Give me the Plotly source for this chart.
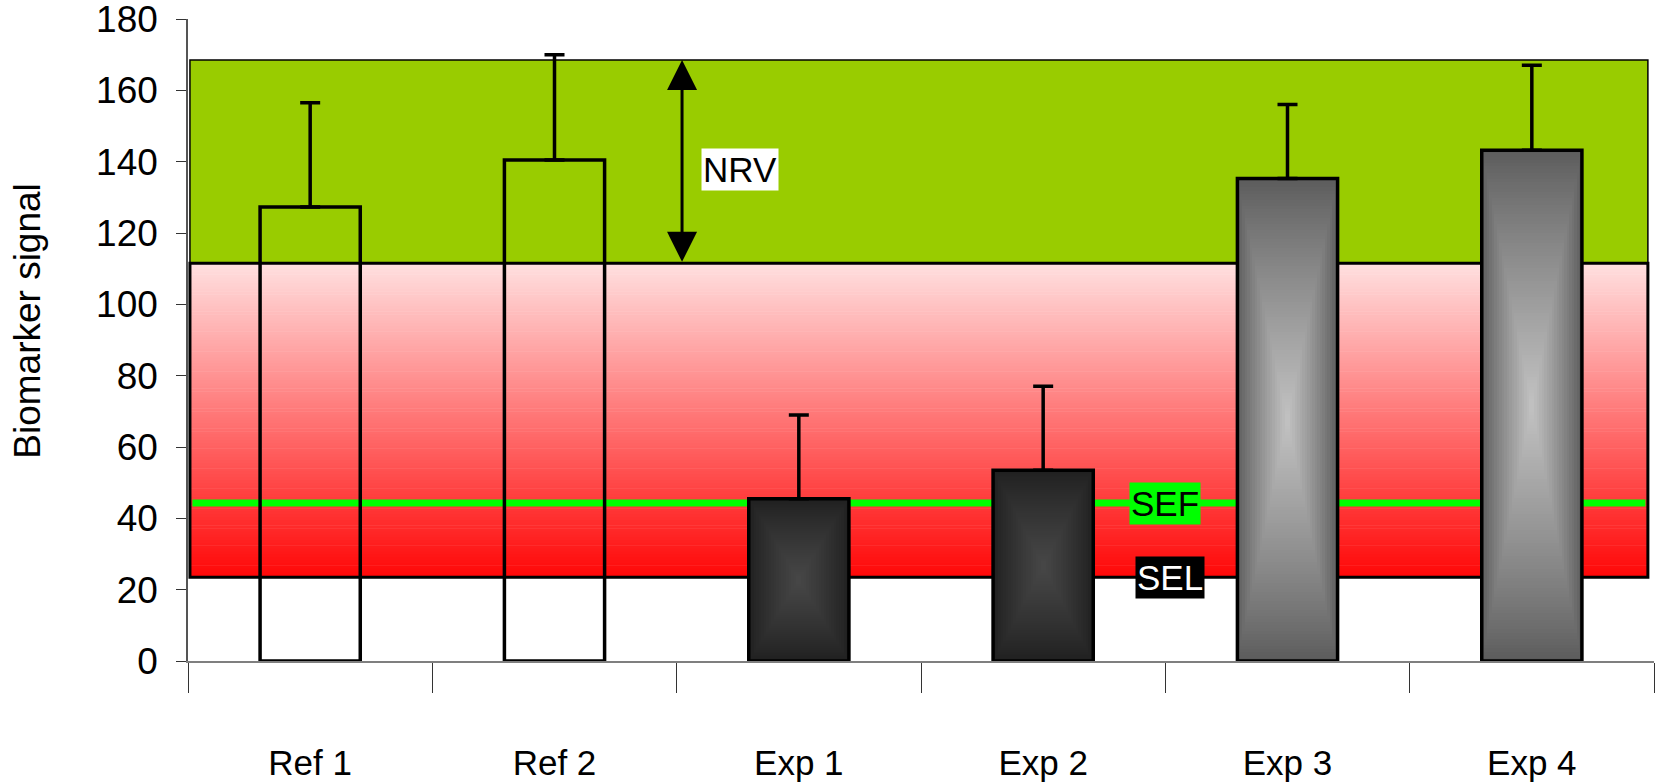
import numpy as np
import plotly.graph_objects as go

# ---------------- data ----------------
categories = ["Ref 1", "Ref 2", "Exp 1", "Exp 2", "Exp 3", "Exp 4"]
values = [127.3, 140.5, 45.5, 53.5, 135.3, 143.2]
errors_plus = [29.2, 29.5, 23.5, 23.5, 20.7, 23.8]
y_tick_values = [0, 20, 40, 60, 80, 100, 120, 140, 160, 180]
y_title = "Biomarker signal"

nrv_low = 111.5     # normal reference values band
nrv_high = 168.5
sef_level = 44.3    # SEF line
sel_level = 23.5    # SEL (bottom of red band)
label_nrv, label_sef, label_sel = "NRV", "SEF", "SEL"

# ---------------- styles ----------------
FONT = "Liberation Sans, Arial, sans-serif"
BAR_W = 0.41
bar_fill = [None, None, ("#1f1f1f", "#474747"), ("#1f1f1f", "#474747"),
            ("#5a5a5a", "#c2c2c2"), ("#5a5a5a", "#c2c2c2")]
GREEN_BAND = "#99CC00"
RED_TOP = (255, 223, 223)
RED_BOTTOM = (255, 8, 8)
BAND_X0, BAND_X1 = -0.492, 5.475

positions = list(range(len(categories)))
boundaries = [p - 0.5 for p in positions] + [positions[-1] + 0.5]

fig = go.Figure()

# gradient fills for experimental bars (drawn under the bar outlines)
for xc, h, fill in zip(positions, values, bar_fill):
    if fill is None:
        continue
    dark, light = fill
    nx, ny = 40, 160
    xe = np.linspace(xc - BAR_W / 2, xc + BAR_W / 2, nx + 1)
    ye = np.linspace(0, h, ny + 1)
    xcen = (xe[:-1] + xe[1:]) / 2
    ycen = (ye[:-1] + ye[1:]) / 2
    dx = np.abs((xcen - xc) / (BAR_W / 2))
    dy = np.abs((ycen - h / 2) / (h / 2))
    z = 1 - np.maximum(dx[None, :], dy[:, None])
    z = np.clip(z, 0, 1) ** 0.85
    fig.add_trace(go.Heatmap(x=xcen, y=ycen, z=z, zmin=0, zmax=1,
                             colorscale=[[0, dark], [1, light]],
                             showscale=False, hoverinfo="skip", zsmooth=False))

# bars with outlines and upper error bars
fig.add_trace(go.Bar(
    x=positions, y=values, width=BAR_W,
    marker=dict(color="rgba(0,0,0,0)", line=dict(color="black", width=3.5)),
    error_y=dict(type="data", symmetric=False, array=errors_plus,
                 arrayminus=[0] * len(values), color="black", thickness=3.5, width=10),
    hoverinfo="x+y", showlegend=False))

# ---------------- background bands ----------------
shapes = []
shapes.append(dict(type="rect", layer="below", xref="x", yref="y",
                   x0=BAND_X0, x1=BAND_X1, y0=nrv_low, y1=nrv_high,
                   fillcolor=GREEN_BAND, line=dict(color="black", width=1.5)))
n_strips = 110
edges = np.linspace(sel_level, nrv_low, n_strips + 1)
for i in range(n_strips):
    t = i / (n_strips - 1)
    r = round(RED_BOTTOM[0] + (RED_TOP[0] - RED_BOTTOM[0]) * t)
    g = round(RED_BOTTOM[1] + (RED_TOP[1] - RED_BOTTOM[1]) * t)
    b = round(RED_BOTTOM[2] + (RED_TOP[2] - RED_BOTTOM[2]) * t)
    top = edges[i + 1] + (0.15 if i < n_strips - 1 else 0)
    shapes.append(dict(type="rect", layer="below", xref="x", yref="y",
                       x0=BAND_X0, x1=BAND_X1, y0=edges[i], y1=top,
                       fillcolor=f"rgb({r},{g},{b})", line=dict(width=0)))
shapes.append(dict(type="rect", layer="below", xref="x", yref="y",
                   x0=BAND_X0, x1=BAND_X1, y0=sel_level, y1=nrv_low,
                   fillcolor="rgba(0,0,0,0)", line=dict(color="black", width=3)))
shapes.append(dict(type="line", layer="below", xref="x", yref="y",
                   x0=BAND_X0 + 0.01, x1=BAND_X1 - 0.01, y0=sef_level, y1=sef_level,
                   line=dict(color="#00FF00", width=7)))

NRV_X = 1.522
annotations = [
    dict(x=NRV_X, y=nrv_high, ax=NRV_X, ay=nrv_low, xref="x", yref="y",
         axref="x", ayref="y", text="", showarrow=True, arrowside="end+start",
         arrowhead=2, startarrowhead=2, arrowsize=2.0, startarrowsize=2.0,
         arrowwidth=3, arrowcolor="black", standoff=0, startstandoff=0),
    dict(x=1.761, y=137.9, xref="x", yref="y", text=label_nrv, showarrow=False,
         bgcolor="white", borderpad=1, font=dict(size=35, color="black", family=FONT)),
    dict(x=3.5, y=sef_level, xref="x", yref="y", text=label_sef, showarrow=False,
         bgcolor="#00FF00", borderpad=1, font=dict(size=35, color="black", family=FONT)),
    dict(x=3.52, y=sel_level, xref="x", yref="y", text=label_sel, showarrow=False,
         bgcolor="black", borderpad=1, font=dict(size=35, color="white", family=FONT)),
    dict(x=0, y=0.53, xref="paper", yref="paper", xanchor="center", yanchor="middle",
         xshift=-160, text=y_title, textangle=-90, showarrow=False,
         font=dict(size=37, color="black", family=FONT)),
]

fig.update_layout(
    width=1659, height=784,
    margin=dict(l=188, r=5, t=19, b=123, autoexpand=False),
    paper_bgcolor="white", plot_bgcolor="white",
    font=dict(family=FONT, color="black", size=34),
    showlegend=False,
    shapes=shapes, annotations=annotations,
    xaxis=dict(range=[-0.5, len(categories) - 0.5], tickmode="array",
               tickvals=positions, ticktext=categories,
               ticks="outside", ticklen=0, tickcolor="rgba(0,0,0,0)",
               ticklabelstandoff=70, automargin=False,
               tickfont=dict(size=35, family=FONT, color="black"),
               showline=True, linecolor="#7f7f7f", linewidth=1.5,
               showgrid=False, zeroline=False, fixedrange=True,
               minor=dict(tickmode="array", tickvals=boundaries, ticks="outside",
                          ticklen=30, tickcolor="#333333", tickwidth=1.2, showgrid=False)),
    yaxis=dict(range=[0, 180], tickmode="array", tickvals=y_tick_values,
               ticks="outside", ticklen=10, tickcolor="#333333", tickwidth=1.2,
               ticklabelstandoff=11, automargin=False, ticklabeloverflow="allow",
               tickfont=dict(size=37, family=FONT, color="black"),
               showline=True, linecolor="#555555", linewidth=1.5,
               showgrid=False, zeroline=False, fixedrange=True),
)

fig.write_html("out.html", config={"displayModeBar": False},
               post_script="document.body.style.margin='0px';document.body.style.overflow='hidden';")
